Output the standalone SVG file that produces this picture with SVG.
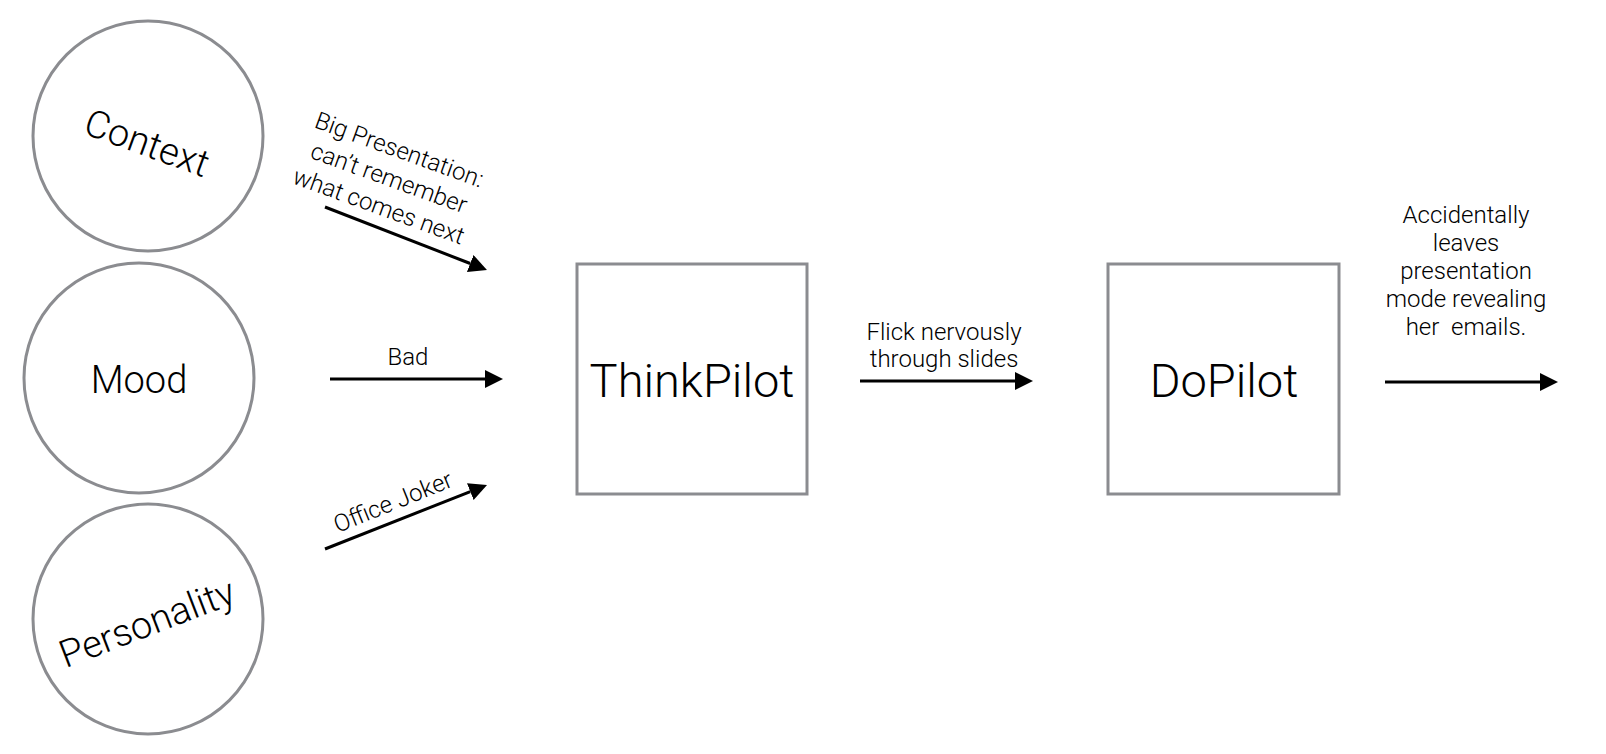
<svg xmlns="http://www.w3.org/2000/svg" width="1606" height="754" viewBox="0 0 1606 754">
<style>
.node{fill:#fff;stroke:#8b8c90;stroke-width:3}
.big{font-family:Roboto,"Liberation Sans",Arial,sans-serif;font-weight:300;font-size:47px;fill:#000;text-anchor:middle}
.mid{font-family:Roboto,"Liberation Sans",Arial,sans-serif;font-weight:300;font-size:38px;fill:#000;text-anchor:middle}
.lbl{font-family:Roboto,"Liberation Sans",Arial,sans-serif;font-weight:300;font-size:24px;fill:#000;text-anchor:middle;white-space:pre}
.edge{stroke:#000;stroke-width:3;fill:none;marker-end:url(#ah)}
</style>
<defs>
<marker id="ah" markerUnits="userSpaceOnUse" markerWidth="18" markerHeight="18" refX="0" refY="9" orient="auto" viewBox="0 0 18 18">
<path d="M0,0 L18,9 L0,18 z" fill="#000"/>
</marker>
</defs>
<rect width="1606" height="754" fill="#fff"/>
<g id="context">
<circle class="node" cx="148" cy="136" r="115"/>
<g transform="translate(147,143) rotate(20)"><text class="mid" x="0" y="13">Context</text></g>
</g>
<g id="mood">
<circle class="node" cx="139" cy="378" r="115"/>
<text class="mid" x="139" y="393">Mood</text>
</g>
<g id="personality">
<circle class="node" cx="148" cy="619" r="115"/>
<g transform="translate(147,623) rotate(-21)"><text class="mid" x="0" y="13">Personality</text></g>
</g>
<g id="thinkpilot">
<rect class="node" x="577" y="264" width="230" height="230"/>
<text class="big" x="692" y="397">ThinkPilot</text>
</g>
<g id="dopilot">
<rect class="node" x="1108" y="264" width="231" height="230"/>
<text class="big" x="1224" y="397">DoPilot</text>
</g>
<g id="connectors">
<line class="edge" x1="325" y1="207" x2="470.2" y2="263.5"/>
<g transform="translate(389,178) rotate(20)">
<text class="lbl" x="0" y="-22">Big Presentation:</text>
<text class="lbl" x="0" y="8">can’t remember</text>
<text class="lbl" x="0" y="38">what comes next</text>
</g>
<line class="edge" x1="330" y1="379" x2="485" y2="379"/>
<text class="lbl" x="408" y="365">Bad</text>
<line class="edge" x1="325" y1="549" x2="470.3" y2="491.6"/>
<g transform="translate(393,502) rotate(-22)"><text class="lbl" x="0" y="8">Office Joker</text></g>
<line class="edge" x1="860" y1="381" x2="1015" y2="381"/>
<text class="lbl" x="944" y="340">Flick nervously</text>
<text class="lbl" x="944" y="367">through slides</text>
<line class="edge" x1="1385" y1="382" x2="1540" y2="382"/>
<text class="lbl" x="1466" y="223">Accidentally</text>
<text class="lbl" x="1466" y="251">leaves</text>
<text class="lbl" x="1466" y="279">presentation</text>
<text class="lbl" x="1466" y="307">mode revealing</text>
<text class="lbl" x="1466" y="335">her  emails.</text>
</g>
</svg>
